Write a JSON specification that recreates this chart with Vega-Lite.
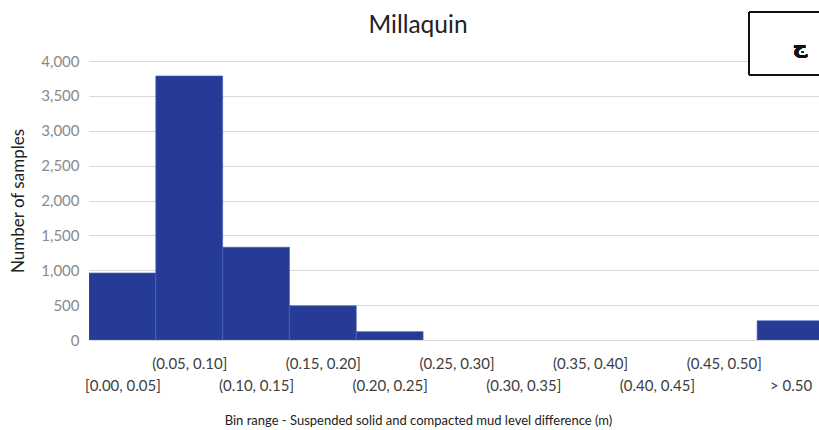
{
  "$schema": "https://vega.github.io/schema/vega-lite/v6.json",
  "width": 730,
  "height": 279,
  "autosize": {"type": "none"},
  "padding": {"left": 89, "top": 61, "right": 0, "bottom": 90},
  "background": "white",
  "config": {"view": {"stroke": null}},
  "title": {"text": "Millaquin", "font": "Lato", "fontSize": 24.5, "fontWeight": "normal", "color": "#222222", "frame": "group", "dx": -36, "offset": -46, "baseline": "alphabetic"},
  "data": {"values": [
    {"start": 0.00, "end": 0.05, "count": 960},
    {"start": 0.05, "end": 0.10, "count": 3785},
    {"start": 0.10, "end": 0.15, "count": 1330},
    {"start": 0.15, "end": 0.20, "count": 490},
    {"start": 0.20, "end": 0.25, "count": 120},
    {"start": 0.25, "end": 0.30, "count": 0},
    {"start": 0.30, "end": 0.35, "count": 0},
    {"start": 0.35, "end": 0.40, "count": 0},
    {"start": 0.40, "end": 0.45, "count": 0},
    {"start": 0.45, "end": 0.50, "count": 0},
    {"start": 0.50, "end": 0.55, "count": 275}
  ]},
  "resolve": {"axis": {"x": "independent", "y": "independent"}},
  "layer": [
    {
      "mark": {"type": "rect", "clip": true, "fill": "#253b95", "stroke": "#4862b8", "strokeWidth": 0.7},
      "transform": [{"filter": "datum.count > 0"}],
      "encoding": {
        "x": {"field": "start", "type": "quantitative",
          "scale": {"domain": [0, 0.5463], "nice": false, "zero": false},
          "axis": {
            "values": [0.025, 0.075, 0.125, 0.175, 0.225, 0.275, 0.325, 0.375, 0.425, 0.475, 0.525],
            "labelExpr": "round((datum.value-0.025)/0.05)%2==1 ? ('(' + format(round((datum.value-0.025)/0.05)*0.05,'.2f') + ', ' + format(round((datum.value-0.025)/0.05)*0.05+0.05,'.2f') + ']') : ['', (round((datum.value-0.025)/0.05)==0 ? '[0.00, 0.05]' : (round((datum.value-0.025)/0.05)==10 ? '> 0.50' : '(' + format(round((datum.value-0.025)/0.05)*0.05,'.2f') + ', ' + format(round((datum.value-0.025)/0.05)*0.05+0.05,'.2f') + ']'))]",
            "labelFlush": false, "labelOverlap": false, "labelAngle": 0,
            "grid": false, "ticks": false, "domain": false,
            "labelPadding": 16, "labelLineHeight": 22, "labelFontSize": 15, "labelFont": "Lato", "labelColor": "#404040",
            "title": "Bin range - Suspended solid and compacted mud level difference (m)",
            "titleFont": "Lato", "titleFontSize": 13, "titleFontWeight": "normal", "titleColor": "#222222",
            "titleX": 329, "titleY": 80, "titleAlign": "center", "titleBaseline": "middle"
          }
        },
        "x2": {"field": "end"},
        "y": {"field": "count", "type": "quantitative",
          "scale": {"domain": [0, 4000], "nice": false, "zero": true},
          "axis": {
            "values": [0, 500, 1000, 1500, 2000, 2500, 3000, 3500, 4000],
            "format": ",d",
            "grid": true, "gridColor": "#d9d9d9", "gridWidth": 1,
            "ticks": false, "domain": false,
            "labelPadding": 10, "labelFontSize": 15, "labelFont": "Lato", "labelColor": "#8a8a8a",
            "title": "Number of samples",
            "titleFont": "Lato", "titleFontSize": 17, "titleFontWeight": "normal", "titleColor": "#222222",
            "titleX": -71, "titleY": 139.5, "titleAlign": "center", "titleBaseline": "middle", "titleAngle": -90
          }
        },
        "y2": {"datum": 0}
      }
    },
    {
      "mark": {"type": "rect", "fill": "white"},
      "encoding": {
        "x": {"datum": 0.4939, "type": "quantitative", "scale": {"domain": [0, 0.5463], "nice": false, "zero": false}, "axis": null},
        "x2": {"datum": 0.58},
        "y": {"datum": 4702, "type": "quantitative", "scale": {"domain": [0, 4000], "nice": false, "zero": true}, "axis": null},
        "y2": {"datum": 3799}
      }
    },
    {
      "mark": {"type": "rule", "color": "#111111", "strokeWidth": 1.5},
      "encoding": {
        "x": {"datum": 0.4939, "type": "quantitative", "scale": {"domain": [0, 0.5463], "nice": false, "zero": false}, "axis": null},
        "x2": {"datum": 0.58},
        "y": {"datum": 4702, "type": "quantitative", "scale": {"domain": [0, 4000], "nice": false, "zero": true}, "axis": null}
      }
    },
    {
      "mark": {"type": "rule", "color": "#111111", "strokeWidth": 1.5},
      "encoding": {
        "x": {"datum": 0.4939, "type": "quantitative", "scale": {"domain": [0, 0.5463], "nice": false, "zero": false}, "axis": null},
        "x2": {"datum": 0.58},
        "y": {"datum": 3799, "type": "quantitative", "scale": {"domain": [0, 4000], "nice": false, "zero": true}, "axis": null}
      }
    },
    {
      "mark": {"type": "rule", "color": "#111111", "strokeWidth": 1.5},
      "encoding": {
        "x": {"datum": 0.4939, "type": "quantitative", "scale": {"domain": [0, 0.5463], "nice": false, "zero": false}, "axis": null},
        "y": {"datum": 4702, "type": "quantitative", "scale": {"domain": [0, 4000], "nice": false, "zero": true}, "axis": null},
        "y2": {"datum": 3799}
      }
    },
    {
      "mark": {"type": "text", "font": "DejaVu Sans", "fontSize": 20, "fontWeight": "bold", "color": "#111111", "align": "center", "baseline": "middle"},
      "encoding": {
        "x": {"datum": 0.532, "type": "quantitative", "scale": {"domain": [0, 0.5463], "nice": false, "zero": false}, "axis": null},
        "y": {"datum": 4201, "type": "quantitative", "scale": {"domain": [0, 4000], "nice": false, "zero": true}, "axis": null},
        "text": {"value": "ج"}
      }
    }
  ]
}
